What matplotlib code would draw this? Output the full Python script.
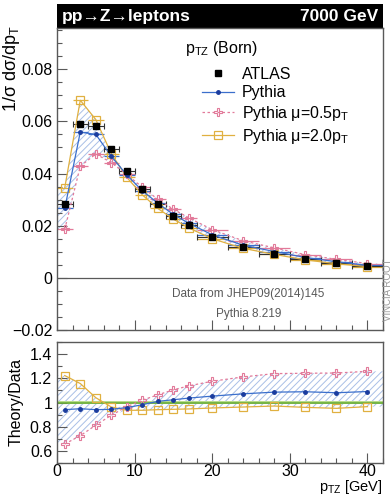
import numpy as np
import matplotlib
matplotlib.use("Agg")
import matplotlib.pyplot as plt
from matplotlib.ticker import MultipleLocator
from matplotlib.patches import Rectangle

plt.rcParams['font.family'] = ['Liberation Sans', 'DejaVu Sans']
plt.rcParams['mathtext.default'] = 'regular'
plt.rcParams['hatch.linewidth'] = 0.7

# bins of pTZ (GeV)
bin_lo = [0, 2, 4, 6, 8, 10, 12, 14, 16, 18, 22, 26, 30, 34, 38]
bin_hi = [2, 4, 6, 8, 10, 12, 14, 16, 18, 22, 26, 30, 34, 38, 42]
x_mid = [1, 3, 5, 7, 9, 11, 13, 15, 17, 20, 24, 28, 32, 36, 40]

# 1/sigma dsigma/dpT
atlas = [0.0283, 0.0589, 0.0584, 0.0494, 0.0411, 0.0340, 0.0283, 0.0238,
         0.0202, 0.0157, 0.0117, 0.0093, 0.0072, 0.0057, 0.0044]
atlas_err = [0.0008, 0.0008, 0.0008, 0.0007, 0.0006, 0.0005, 0.0005, 0.0004,
             0.0004, 0.0003, 0.0003, 0.0003, 0.0002, 0.0002, 0.0002]
pythia = [0.0266, 0.0559, 0.0550, 0.0466, 0.0394, 0.0334, 0.0286, 0.0243,
          0.0209, 0.0165, 0.0125, 0.0101, 0.0078, 0.0062, 0.0048]
pythia_05 = [0.0186, 0.0428, 0.0475, 0.0442, 0.0397, 0.0347, 0.0301, 0.0263,
             0.0230, 0.0185, 0.0142, 0.0115, 0.0089, 0.0071, 0.0055]
pythia_20 = [0.0346, 0.0681, 0.0607, 0.0476, 0.0385, 0.0318, 0.0266, 0.0225,
             0.0191, 0.0150, 0.0113, 0.0090, 0.0069, 0.0054, 0.0043]

# theory / data
r_pythia = [0.941, 0.949, 0.941, 0.944, 0.958, 0.982, 1.010, 1.023, 1.037,
            1.053, 1.072, 1.086, 1.089, 1.081, 1.091]
r_05 = [0.657, 0.726, 0.813, 0.895, 0.966, 1.020, 1.064, 1.105, 1.138,
        1.176, 1.212, 1.239, 1.242, 1.244, 1.258]
r_20 = [1.223, 1.157, 1.040, 0.963, 0.936, 0.936, 0.941, 0.944, 0.947,
        0.955, 0.963, 0.971, 0.960, 0.952, 0.966]

c_blue = '#3b6fcc'
c_dblue = '#1a3c9e'
c_pink = '#e27a9a'
c_yell = '#e0b040'
c_hatch = '#a9bfe6'
c_frame = '0.35'

xm = np.array(x_mid)
xerr = (np.array(bin_hi) - np.array(bin_lo)) / 2.0


def band_xy(lo_vals, hi_vals):
    # envelope of the scale variations, stretched to the outer bin edges
    lo = np.minimum(lo_vals, hi_vals)
    hi = np.maximum(lo_vals, hi_vals)
    bx = np.concatenate([[bin_lo[0]], xm, [bin_hi[-1]]])
    blo = np.concatenate([[lo[0]], lo, [lo[-1]]])
    bhi = np.concatenate([[hi[0]], hi, [hi[-1]]])
    return bx, blo, bhi


def style_axes(ax):
    for s in ax.spines.values():
        s.set_color(c_frame)
        s.set_linewidth(1.0)
    ax.tick_params(which='both', direction='in', top=False, right=False,
                   color=c_frame, labelsize=11.5, width=0.8)
    ax.tick_params(which='major', length=7)
    ax.tick_params(which='minor', length=3.5)
    ax.xaxis.set_major_locator(MultipleLocator(10))
    ax.xaxis.set_minor_locator(MultipleLocator(2))


fig = plt.figure(figsize=(3.92, 4.95), dpi=100)
ax = fig.add_axes([0.1454, 0.3333, 0.8316, 0.6101])
axr = fig.add_axes([0.1454, 0.0646, 0.8316, 0.2444])

# ---- main panel
bx, blo, bhi = band_xy(pythia_05, pythia_20)
ax.fill_between(bx, blo, bhi, facecolor='none', edgecolor=c_hatch,
                hatch='/////', linewidth=0)
ax.axhline(0, color=c_frame, lw=0.9)

ax.errorbar(xm, pythia_20, xerr=xerr, color=c_yell, lw=0.9, marker='s',
            ms=6, mfc='none', mec=c_yell, mew=0.9, capsize=0)
ax.errorbar(xm, pythia_05, xerr=xerr, color=c_pink, lw=0.9, ls=(0, (2, 2)),
            marker='P', ms=5.5, mfc='none', mec=c_pink, mew=0.8, capsize=0)
ax.errorbar(xm, pythia, xerr=xerr, color=c_blue, lw=0.9, marker='o',
            ms=2.5, mfc=c_dblue, mec=c_dblue, capsize=0)
ax.errorbar(xm, atlas, xerr=xerr, yerr=atlas_err, fmt='s', color='black',
            ms=4, ecolor='0.2', elinewidth=0.8, capsize=2, capthick=0.8)

ax.set_xlim(0, 42)
ax.set_ylim(-0.02, 0.0958)
ax.yaxis.set_major_locator(MultipleLocator(0.02))
ax.yaxis.set_minor_locator(MultipleLocator(0.005))
ax.set_yticks([-0.02, 0, 0.02, 0.04, 0.06, 0.08])
ax.set_yticklabels(['\u22120.02', '0', '0.02', '0.04', '0.06', '0.08'])
style_axes(ax)
ax.tick_params(labelbottom=False)

# header bar
ax.add_patch(Rectangle((0, 1.0), 1.0, 0.078, transform=ax.transAxes,
                       facecolor='black', edgecolor='none', clip_on=False))
ax.text(0.015, 1.037, 'pp\u2192Z\u2192leptons', transform=ax.transAxes,
        color='white', fontsize=12.5, fontweight='bold', va='center', ha='left')
ax.text(0.985, 1.037, '7000 GeV', transform=ax.transAxes, color='white',
        fontsize=12.5, fontweight='bold', va='center', ha='right')

ax.text(0.394, 0.932, 'p$_{TZ}$ (Born)', transform=ax.transAxes,
        fontsize=11.5, ha='left', va='center')

handles = [
    plt.Line2D([], [], ls='none', marker='s', ms=4, color='black'),
    plt.Line2D([], [], color=c_blue, lw=0.9, marker='o', ms=2.5,
               mfc=c_dblue, mec=c_dblue),
    plt.Line2D([], [], color=c_pink, lw=0.9, ls=(0, (2, 2)), marker='P',
               ms=5.5, mfc='none', mec=c_pink, mew=0.8),
    plt.Line2D([], [], color=c_yell, lw=0.9, marker='s', ms=6, mfc='none',
               mec=c_yell, mew=0.9),
]
labels = ['ATLAS', 'Pythia', 'Pythia \u03bc=0.5p$_T$', 'Pythia \u03bc=2.0p$_T$']
ax.legend(handles, labels, loc='upper left', bbox_to_anchor=(0.445, 0.872),
          frameon=False, fontsize=11.5, handlelength=2.0, handletextpad=0.5,
          labelspacing=0.23, borderpad=0, borderaxespad=0)

ax.text(0.587, 0.118, 'Data from JHEP09(2014)145', transform=ax.transAxes,
        fontsize=8.5, color='0.35', ha='center', va='center')
ax.text(0.587, 0.052, 'Pythia 8.219', transform=ax.transAxes,
        fontsize=8.5, color='0.35', ha='center', va='center')

fig.text(12 / 392, 1 - 25 / 495, '1/\u03c3 d\u03c3/dp$_T$', rotation=90,
         fontsize=13, ha='center', va='top')
fig.text(388 / 392, 1 - 290 / 495, 'VINCIA ROOT', rotation=90, fontsize=7,
         color='0.6', ha='center', va='center')

# ---- ratio panel
bx, blo, bhi = band_xy(r_05, r_20)
axr.fill_between(bx, blo, bhi, facecolor='none', edgecolor=c_hatch,
                 hatch='/////', linewidth=0)
axr.fill_between([0, 42], 0.99, 1.01, color='#b8dc8c', lw=0)
axr.axhline(1.0, color='#6aae3a', lw=1.2)

axr.plot(xm, r_20, color=c_yell, lw=0.9, marker='s', ms=6, mfc='none',
         mec=c_yell, mew=0.9)
axr.plot(xm, r_05, color=c_pink, lw=0.9, ls=(0, (2, 2)), marker='P', ms=5.5,
         mfc='none', mec=c_pink, mew=0.8)
axr.plot(xm, r_pythia, color=c_blue, lw=0.9, marker='o', ms=2.5,
         mfc=c_dblue, mec=c_dblue)

axr.set_xlim(0, 42)
axr.set_ylim(0.5, 1.5)
axr.set_yticks([0.6, 0.8, 1.0, 1.2, 1.4])
axr.set_yticklabels(['0.6', '0.8', '1', '1.2', '1.4'])
axr.yaxis.set_minor_locator(MultipleLocator(0.1))
style_axes(axr)
axr.set_xticks([0, 10, 20, 30, 40])
axr.tick_params(axis='x', pad=1)

fig.text(16 / 392, 1 - 402 / 495, 'Theory/Data', rotation=90,
         fontsize=11.5, ha='center', va='center')
fig.text(383 / 392, 1 - 491.5 / 495, 'p$_{TZ}$ [GeV]', fontsize=10.5,
         ha='right', va='baseline')

fig.savefig('out.png', dpi=100)
